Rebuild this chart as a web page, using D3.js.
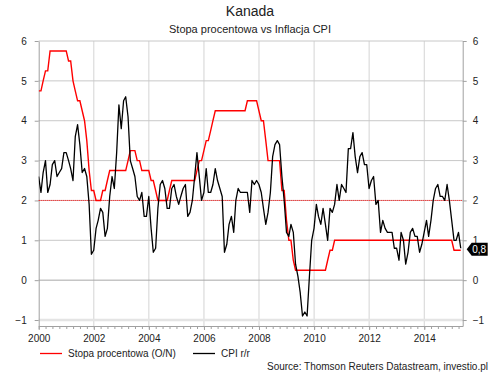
<!DOCTYPE html>
<html>
<head>
<meta charset="utf-8">
<script src="https://cdn.jsdelivr.net/npm/d3@7"></script>
<style>
  body { margin: 0; background: #fff; }
  svg { font-family: "Liberation Sans", Arial, sans-serif; }
</style>
</head>
<body>
<svg id="chart" width="500" height="375"></svg>
<script>
// monthly values, Dec 1999 .. Apr 2015 (plotted at month end)
var rateValues = [
  4.75,
  4.75, 5.0, 5.25, 5.25, 5.75, 5.75, 5.75, 5.75, 5.75, 5.75, 5.75, 5.75,   // 2000
  5.5, 5.5, 5.0, 4.75, 4.5, 4.5, 4.25, 4.0, 3.5, 2.75, 2.25, 2.25,         // 2001
  2.0, 2.0, 2.0, 2.25, 2.25, 2.5, 2.75, 2.75, 2.75, 2.75, 2.75, 2.75,      // 2002
  2.75, 2.75, 3.0, 3.25, 3.25, 3.25, 3.0, 3.0, 2.75, 2.75, 2.75, 2.75,     // 2003
  2.5, 2.5, 2.25, 2.0, 2.0, 2.0, 2.0, 2.0, 2.25, 2.5, 2.5, 2.5,            // 2004
  2.5, 2.5, 2.5, 2.5, 2.5, 2.5, 2.5, 2.5, 2.75, 3.0, 3.0, 3.25,           // 2005
  3.5, 3.5, 3.75, 4.0, 4.25, 4.25, 4.25, 4.25, 4.25, 4.25, 4.25, 4.25,     // 2006
  4.25, 4.25, 4.25, 4.25, 4.25, 4.25, 4.5, 4.5, 4.5, 4.5, 4.5, 4.25,       // 2007
  4.0, 4.0, 3.5, 3.0, 3.0, 3.0, 3.0, 3.0, 3.0, 2.25, 2.25, 1.5,           // 2008
  1.0, 1.0, 0.5, 0.25, 0.25, 0.25, 0.25, 0.25, 0.25, 0.25, 0.25, 0.25,    // 2009
  0.25, 0.25, 0.25, 0.25, 0.25, 0.5, 0.75, 0.75, 1.0, 1.0, 1.0, 1.0,      // 2010
  1.0, 1.0, 1.0, 1.0, 1.0, 1.0, 1.0, 1.0, 1.0, 1.0, 1.0, 1.0,             // 2011
  1.0, 1.0, 1.0, 1.0, 1.0, 1.0, 1.0, 1.0, 1.0, 1.0, 1.0, 1.0,             // 2012
  1.0, 1.0, 1.0, 1.0, 1.0, 1.0, 1.0, 1.0, 1.0, 1.0, 1.0, 1.0,             // 2013
  1.0, 1.0, 1.0, 1.0, 1.0, 1.0, 1.0, 1.0, 1.0, 1.0, 1.0, 1.0,             // 2014
  0.75, 0.75, 0.75, 0.75                                                  // 2015
];

var cpiValues = [
  2.6,
  2.2, 2.7, 3.0, 2.2, 2.4, 2.9, 3.0, 2.6, 2.7, 2.8, 3.2, 3.2,             // 2000
  3.0, 2.8, 2.5, 3.6, 3.9, 3.4, 2.7, 2.8, 2.6, 1.9, 0.65, 0.75,           // 2001
  1.3, 1.5, 1.8, 1.7, 1.1, 1.3, 2.1, 2.6, 2.3, 3.2, 4.4, 3.8,             // 2002
  4.5, 4.6, 4.1, 3.0, 2.8, 2.6, 2.1, 2.0, 2.2, 1.6, 1.6, 2.1,             // 2003
  1.3, 0.7, 0.8, 1.8, 2.4, 2.5, 2.3, 1.8, 1.8, 2.3, 2.4, 2.1,             // 2004
  1.9, 2.1, 2.3, 2.4, 1.6, 1.7, 2.0, 2.6, 3.2, 2.6, 2.0, 2.2,             // 2005
  2.8, 2.2, 2.2, 2.4, 2.8, 2.5, 2.3, 2.1, 0.7, 0.9, 1.4, 1.6,             // 2006
  1.2, 2.0, 2.3, 2.2, 2.2, 2.2, 2.2, 1.7, 2.5, 2.4, 2.5, 2.4,             // 2007
  2.2, 1.8, 1.4, 1.7, 2.2, 3.1, 3.4, 3.5, 3.4, 2.6, 2.0, 1.2,             // 2008
  1.1, 1.4, 1.2, 0.4, 0.1, -0.3, -0.9, -0.8, -0.9, 0.1, 1.0, 1.3,         // 2009
  1.9, 1.6, 1.4, 1.8, 1.4, 1.0, 1.8, 1.7, 1.9, 2.4, 2.0, 2.4,             // 2010
  2.3, 2.2, 3.3, 3.3, 3.7, 3.1, 2.7, 3.1, 3.2, 2.9, 2.9, 2.3,             // 2011
  2.5, 2.6, 1.9, 2.0, 1.2, 1.5, 1.3, 1.2, 1.2, 1.2, 0.8, 0.8,             // 2012
  0.5, 1.2, 1.0, 0.4, 0.7, 1.2, 1.3, 1.1, 1.1, 0.7, 0.9, 1.2,             // 2013
  1.5, 1.1, 1.5, 2.0, 2.3, 2.4, 2.1, 2.1, 2.0, 2.4, 2.0, 1.5,             // 2014
  1.0, 1.0, 1.2, 0.8                                                      // 2015
];

var yTicks = [-1, 0, 1, 2, 3, 4, 5, 6];
var targetLine = 2; // dotted red reference
var seriesNames = ["Stopa procentowa (O/N)", "CPI r/r"];
var seriesColors = ["#ff0000", "#000000"];

var svg = d3.select('#chart');
var plotLeft = 38.7, plotRight = 462.7, plotTop = 41, plotBottom = 326;

// month end dates
function monthEnd(i) {
  return d3.timeDay.offset(d3.timeMonth.offset(new Date(2000, 0, 1), i), -1);
}
var rate = rateValues.map(function (v, i) { return { date: monthEnd(i), value: v }; });
var cpi = cpiValues.map(function (v, i) { return { date: monthEnd(i), value: v }; });

var x = d3.scaleTime()
  .domain([new Date(2000, 0, 1), new Date(2015, 4, 26)])
  .range([plotLeft, plotRight]);
var y = d3.scaleLinear()
  .domain([-1.15, 6])
  .range([plotBottom, plotTop]);

// titles
svg.append('text').attr('x', 250).attr('y', 16).attr('text-anchor', 'middle')
  .style('font-size', '14px').style('fill', '#222').text('Kanada');
svg.append('text').attr('x', 250).attr('y', 33).attr('text-anchor', 'middle')
  .style('font-size', '11px').style('fill', '#222').text('Stopa procentowa vs Inflacja CPI');

// gridlines
var grid = svg.append('g');
grid.selectAll('line.v').data(x.ticks(d3.timeYear.every(2)).slice(1))
  .enter().append('line')
  .attr('x1', function (d) { return x(d); }).attr('x2', function (d) { return x(d); })
  .attr('y1', plotTop).attr('y2', plotBottom)
  .style('stroke', '#d4d4d4').style('stroke-width', 1);
grid.selectAll('line.h').data(yTicks)
  .enter().append('line')
  .attr('x1', plotLeft).attr('x2', plotRight)
  .attr('y1', function (d) { return y(d); }).attr('y2', function (d) { return y(d); })
  .style('stroke', function (d) { return d === 0 ? '#a8a8a8' : (d === -1 ? '#e4e4e4' : '#c8c8c8'); })
  .style('stroke-width', function (d) { return d === -1 ? 2.5 : 1; });

// axes
svg.append('g').attr('transform', 'translate(' + plotLeft + ',0)')
  .call(d3.axisLeft(y).tickValues(yTicks).tickSize(4).tickSizeOuter(0).tickPadding(8));
svg.append('g').attr('transform', 'translate(' + plotRight + ',0)')
  .call(d3.axisRight(y).tickValues(yTicks).tickSize(4).tickSizeOuter(0).tickPadding(6));
svg.append('g').attr('transform', 'translate(0,' + plotBottom + ')')
  .call(d3.axisBottom(x).ticks(d3.timeMonth.every(3)).tickSize(3).tickSizeOuter(0).tickFormat(''));
svg.append('g').attr('transform', 'translate(0,' + plotBottom + ')')
  .call(d3.axisBottom(x).ticks(d3.timeYear.every(2)).tickSize(4).tickSizeOuter(0).tickPadding(5)
    .tickFormat(d3.timeFormat('%Y')))
  .select('.domain').remove();

svg.selectAll('.domain').style('stroke', '#a0a0a0');
svg.selectAll('.tick line').style('stroke', '#a0a0a0');
svg.selectAll('.tick text').style('font-size', '10px').style('fill', '#222')
  .style('font-family', '"Liberation Sans", Arial, sans-serif');

// clip for series
svg.append('clipPath').attr('id', 'plot').append('rect')
  .attr('x', plotLeft).attr('y', plotTop - 2)
  .attr('width', plotRight - plotLeft + 1).attr('height', plotBottom - plotTop + 2);

// dotted reference at 2
svg.append('line')
  .attr('x1', plotLeft).attr('x2', plotRight)
  .attr('y1', y(targetLine)).attr('y2', y(targetLine))
  .style('stroke', '#ff0000').style('stroke-width', 1).style('stroke-dasharray', '1,1');

var line = d3.line()
  .x(function (d) { return x(d.date); })
  .y(function (d) { return y(d.value); });

var lines = svg.append('g').attr('clip-path', 'url(#plot)');
lines.append('path').datum(rate).attr('d', line)
  .style('fill', 'none').style('stroke', seriesColors[0]).style('stroke-width', 1.4);
lines.append('path').datum(cpi).attr('d', line)
  .style('fill', 'none').style('stroke', seriesColors[1]).style('stroke-width', 1.3)
  .style('stroke-linejoin', 'round');

// last value tag
var last = cpi[cpi.length - 1];
var ty = y(last.value) + 1;
svg.append('path')
  .attr('d', 'M' + (plotRight + 4) + ',' + ty + 'L' + (plotRight + 9) + ',' + (ty - 6.5) +
    'L' + (plotRight + 25) + ',' + (ty - 6.5) + 'L' + (plotRight + 25) + ',' + (ty + 6.5) +
    'L' + (plotRight + 9) + ',' + (ty + 6.5) + 'Z')
  .style('fill', '#000');
svg.append('text').attr('x', plotRight + 16.5).attr('y', ty + 4).attr('text-anchor', 'middle')
  .style('font-size', '10px').style('fill', '#fff')
  .text(d3.format('.1f')(last.value).replace('.', ','));

// legend
var legend = svg.append('g');
var legendX = [40, 193];
seriesNames.forEach(function (name, i) {
  legend.append('line').attr('x1', legendX[i]).attr('x2', legendX[i] + 22)
    .attr('y1', 353.5).attr('y2', 353.5)
    .style('stroke', seriesColors[i]).style('stroke-width', 1.3);
  legend.append('text').attr('x', legendX[i] + 28).attr('y', 357)
    .style('font-size', '10px').style('fill', '#222').text(name);
});

svg.append('text').attr('x', 488).attr('y', 370).attr('text-anchor', 'end')
  .style('font-size', '10px').style('fill', '#222')
  .text('Source: Thomson Reuters Datastream, investio.pl');
</script>
</body>
</html>
